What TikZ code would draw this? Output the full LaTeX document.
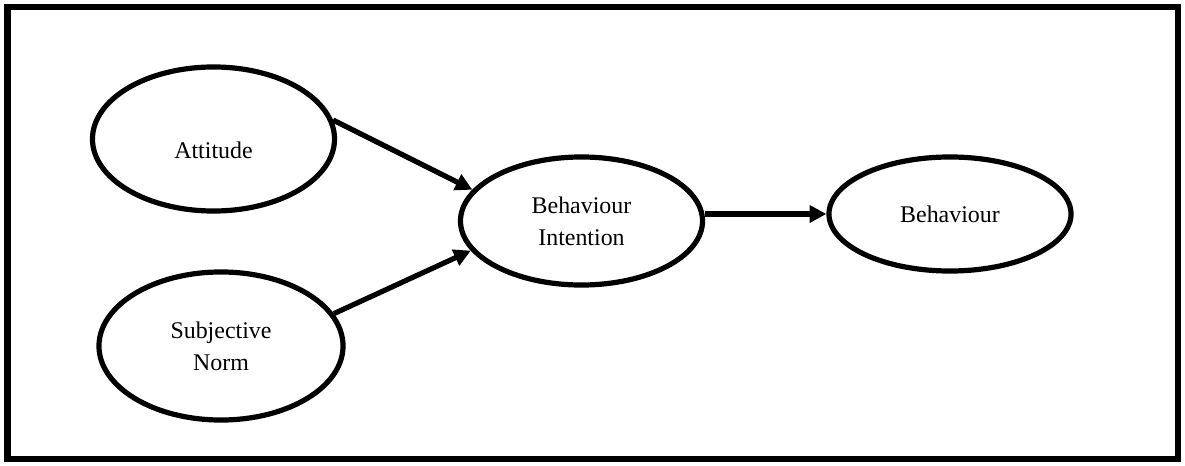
\documentclass[tikz,border=0pt]{standalone}
\usepackage{fontspec}
\setmainfont{Liberation Serif}
\usepackage{tikz}
\usetikzlibrary{shapes.geometric, arrows.meta, positioning}
\tikzset{
	construct/.style={ellipse, draw=black, line width=0.13cm, inner sep=0pt, align=center, font=\fontsize{17}{22.7}\selectfont},
	link/.style={-{Triangle[length=0.42cm, width=0.42cm]}, line width=0.13cm},
}

\begin{document}
\begin{tikzpicture}[x=0.025cm, y=-0.025cm]
	\useasboundingbox (0,0) rectangle (1185,466);
	% frame
	\draw[line width=0.15cm] (7.5,7.5) rectangle (1177.5,458.5);
	% constructs
	\node[construct, minimum width=6.05cm, minimum height=3.6cm, text height=0.95cm, text depth=0pt] (att) at (213.5,139) {Attitude};
	\node[construct, minimum width=6.1cm, minimum height=3.7cm] (sn) at (221,346) {Subjective\\ Norm};
	\node[construct, minimum width=6.05cm, minimum height=3.2cm] (bi) at (581.5,221) {Behaviour\\ Intention};
	\node[construct, minimum width=6.05cm, minimum height=2.85cm] (beh) at (950,214) {Behaviour};
	% paths
	\draw[link] (att.9) -- (bi.164);
	\draw[link] (sn.16) -- (bi.195);
	\draw[link] (beh.west -| bi.east) -- (beh.west);
\end{tikzpicture}
\end{document}
